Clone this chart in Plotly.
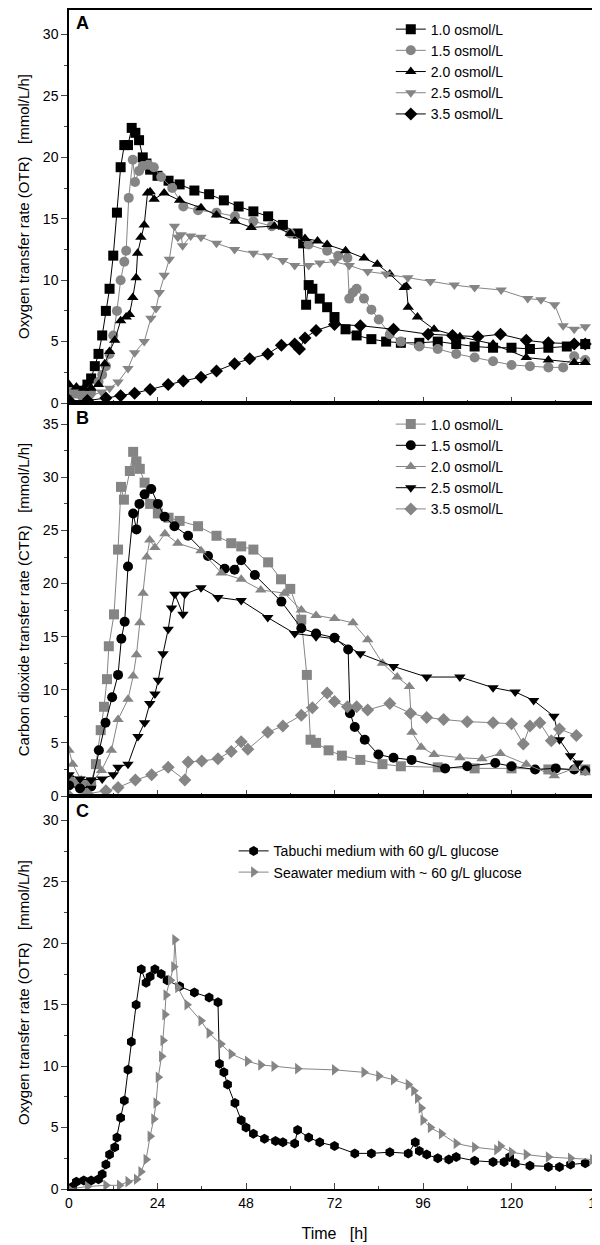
import plotly.graph_objects as go
from plotly.subplots import make_subplots

BLACK = "#000000"
GRAY = "#858585"

# ---------- Panel A: OTR ----------
A_labels = ["1.0 osmol/L", "1.5 osmol/L", "2.0 osmol/L", "2.5 osmol/L", "3.5 osmol/L"]
A_t10 = [0,2,4,5,6,7,8,9,10,11,12,13,14,15,16,17,18,19,20,21,22,24,27,30,34,38,42,46,50,54,58,62,63.5,64.3,65,66,68,70,72,75,78,82,86,90,95,100,105,110,115,120,125,130,135,140]
A_v10 = [1.0,0.8,1.0,1.5,2.0,3.0,4.0,5.5,7.5,9.3,12.0,15.5,19.2,21.0,21.0,22.4,22.0,21.4,20.0,19.5,19.0,18.5,18.1,17.8,17.3,17.0,16.5,16.0,15.6,15.2,14.5,13.8,13.0,8.0,9.6,9.3,8.5,7.8,7.0,6.0,5.5,5.2,5.0,4.9,4.9,5.0,4.8,4.6,4.5,4.5,4.4,4.5,4.6,4.8]
A_t15 = [0,2,4,6,8,9,10,11,12,13,14,15,15.5,16.2,17.3,17.9,19,20,21.5,23,25,28,31,35,40,45,50,55,60,65,70,73,75.5,76,77,78,80,82,84,87,90,95,100,105,110,115,120,125,130,134,137,140]
A_v15 = [1.0,0.8,0.7,1.0,1.7,2.3,3.0,4.0,5.5,7.5,10.0,11.5,12.4,16.7,19.8,18.0,18.9,19.3,19.4,19.2,18.4,17.5,16.0,15.7,15.5,15.2,14.8,14.4,13.8,12.9,12.4,12.0,11.8,8.5,9.0,9.3,8.5,7.6,6.8,5.6,5.0,4.6,4.4,4.0,3.7,3.4,3.1,3.0,2.9,2.9,3.8,3.5]
A_t20 = [0,2,4,6,8,9.7,11,12.4,14,15.5,16.4,17.3,18.2,18.6,19.5,20.4,21.3,22,23.1,25.8,30,35.8,40,45,49.4,55.7,60,64,67.4,70,75,80,83.6,87,90.9,91.5,92,94.5,99,106,115,124,130,137,140]
A_v20 = [1.5,1.3,1.2,1.2,1.5,3.2,4.2,5.1,6.7,7.0,7.2,8.6,10.2,12.2,13.5,14.5,17.1,17.2,16.6,17.1,16.5,15.9,15.3,14.8,14.3,14.4,13.8,13.4,13.2,12.9,12.4,11.8,11.3,10.5,9.4,9.5,7.8,7.0,6.0,5.4,4.8,3.7,3.5,3.3,3.3]
A_t25 = [0,3,6,8.8,11,13.3,16,17.8,20.4,22.2,23.6,24.5,25.8,27.2,28.6,29.5,30.4,30.8,33,35.8,40,44.9,50,53.9,58,61.2,65,68,72,76,81,86,91.9,98,104.5,110,117.2,124.4,128,131.7,134,137,140]
A_v25 = [0.4,0.5,0.6,0.9,1.2,1.7,2.8,4.1,5.0,6.9,7.7,9.0,10.4,11.7,14.4,13.5,13.7,12.8,13.6,13.5,13.0,12.5,12.2,12.0,11.6,11.2,11.2,11.4,11.5,11.2,10.7,10.5,10.2,9.9,9.6,9.4,9.2,8.5,8.4,8.0,6.3,6.0,6.2]
A_t35 = [0,5,10,14,17.8,22,26.9,31,35.8,40,44.9,49,53.9,57.6,61.2,62.5,64,67,72,79,88,97.4,104,110.9,117,124,130,137,140]
A_v35 = [0.2,0.2,0.4,0.6,0.8,1.1,1.5,1.8,2.1,2.6,3.2,3.6,4.0,4.7,4.8,4.4,5.3,5.9,6.4,6.3,6.0,5.6,5.5,5.4,5.6,5.1,4.9,4.8,4.8]

# ---------- Panel B: CTR ----------
B_t10 = [0,2,4,6,7.3,8.6,9.5,10.3,10.8,12.2,13.3,14.1,14.9,16.5,17.4,18.3,19.2,20.5,22,24.1,27,30,35,40,44,46.7,50,54,57.5,60,63,64.5,65.5,67,70.4,74,79,85,90,100,110,120,130,140]
B_v10 = [1.5,1.2,1.0,1.3,3.0,6.2,8.4,11.0,14.1,17.1,23.2,29.1,27.9,30.6,32.4,31.5,30.8,29.5,27.5,26.6,26.2,25.9,25.4,24.5,23.8,23.5,23.2,22.0,20.4,19.5,16.6,11.4,5.3,5.0,4.3,3.8,3.4,3.0,2.8,2.7,2.6,2.6,2.5,2.5]
B_t15 = [0,3,6,8.1,9.9,11.7,13.3,14.2,15.1,16,17.4,18.3,19.1,20.5,22.3,24.1,25.9,28.6,32.3,37.7,42.2,44.9,46.7,50.4,57.6,63,67,72,75.7,76.2,77.5,80.2,83.9,88,92.9,102,108,115.6,120,126.4,132,137,140]
B_v15 = [1.0,0.7,0.9,4.3,6.9,9.3,11.4,14.8,16.4,21.6,26.6,25.1,27.5,28.4,28.9,27.5,26.3,25.4,24.5,22.6,21.4,21.3,22.2,20.8,18.3,15.8,15.3,14.9,13.8,7.8,6.5,5.3,3.9,3.6,3.4,2.6,2.8,3.1,2.8,2.5,2.6,2.5,2.4]
B_t20 = [0,1,3.3,6,8.8,11.5,13.3,16,17.4,18.3,19.2,20.1,21.1,21.9,23.3,26,29.5,35.8,41.3,46.7,52,58.4,63,67,72,77,81,85,89,92.3,93,95.5,99,106,112,117,124,131.6,137,140]
B_v20 = [4.3,3.0,1.5,1.2,2.4,4.3,7.2,9.1,11.3,13.3,16.3,19.1,22.5,24.1,23.4,24.7,23.8,23.1,21.0,20.4,19.4,19.1,17.5,17.0,16.7,16.3,14.7,12.5,11.2,10.3,6.0,4.6,3.9,3.6,3.5,4.0,3.0,1.9,2.6,2.2]
B_t25 = [0,3,6,9,12,13.3,16,18.7,20.5,21.9,23.3,24.2,25.5,26.9,27.8,28.7,30.9,31.4,35.8,40.4,46.7,53.9,61.2,67,72,79,88,97,106,115,121,126,131.5,133,136,138]
B_v25 = [2.0,1.6,1.5,1.6,2.0,2.7,3.0,5.6,6.9,8.7,9.6,10.9,13.4,15.7,17.7,19.0,17.1,19.0,19.6,18.7,18.4,16.8,15.3,15.0,14.8,13.4,12.2,11.2,11.2,10.2,9.8,9.0,7.5,5.3,3.8,3.1]
B_t35 = [0,5,10,13.3,18,22.4,26.9,31.4,32.3,36,40.4,44,46.7,48.5,53.9,58,63,66,70,72,75.5,78,81,87,92.6,97,101.6,108,115,120,123.2,125,127.7,130.8,133,137.6]
B_v35 = [0.0,0.2,0.5,0.8,1.5,2.0,2.7,1.5,3.2,3.3,3.5,4.2,5.1,4.4,6.0,6.6,7.6,8.3,9.7,8.9,8.4,8.4,8.1,8.7,7.8,7.4,7.2,7.0,6.9,6.8,4.9,6.6,6.9,5.2,6.3,5.7]

# ---------- Panel C: OTR media ----------
C_labels = ["Tabuchi medium with 60 g/L glucose", "Seawater medium with ~ 60 g/L glucose"]
C_tTab = [1,2,4,6,8,9,10,11,12.4,13,14,15,16,16.9,18.2,19.6,20.9,22,23.3,25,26.6,30,34,38,40.4,40.8,42,43,45,46.7,48,50,53,56,58,61.2,62,65,68,72,77.5,82,87,92,93.9,95,97,100,103,105,110,115,118,119.5,121,125,130,133,136,140]
C_vTab = [0.2,0.6,0.7,0.7,0.8,1.2,2.0,2.8,3.4,4.2,5.8,7.2,9.7,12.0,15.0,17.9,16.8,17.3,17.9,17.5,17.0,16.5,16.0,15.6,15.2,10.2,9.5,8.5,7.0,5.6,5.0,4.5,4.1,3.9,3.8,3.7,4.8,4.2,3.8,3.5,2.9,2.9,3.0,2.9,3.8,3.1,2.8,2.5,2.4,2.6,2.3,2.2,2.2,2.6,2.1,1.9,1.8,1.8,2.0,2.1]
C_tSea = [0,5,10,13.7,16,18.3,19.5,20.9,22,23,23.6,24.2,25.1,25.5,26,26.3,27.5,28.4,28.7,29.5,32,35.8,38,41.2,44,48.4,52,55.6,62,72,80,84,88,92,93.5,94.5,95.5,96,98,101,105,110,116,117,120,124,130,136,142]
C_vSea = [0.0,0.2,0.3,0.3,0.6,0.8,1.4,2.4,4.3,5.7,7.0,9.1,10.8,12.1,14.2,15.8,17.0,18.1,20.3,16.4,15.0,13.7,12.7,11.8,11.0,10.4,10.1,10.0,9.8,9.7,9.5,9.2,8.9,8.5,8.0,7.4,6.6,5.6,5.0,4.5,3.7,3.4,3.2,3.5,3.0,2.8,2.6,2.5,2.4]

x_ticks = [0, 24, 48, 72, 96, 120, 144]

fig = make_subplots(rows=3, cols=1, shared_xaxes=True, vertical_spacing=0)

def add(row, t, v, name, color, symbol, legend, size=10):
    fig.add_trace(go.Scatter(
        x=t, y=v, name=name, mode="lines+markers",
        line=dict(color=color, width=1),
        marker=dict(color=color, symbol=symbol, size=size, line=dict(width=0)),
        legend=legend), row=row, col=1)

A_series = [(A_t10, A_v10, BLACK, "square"), (A_t15, A_v15, GRAY, "circle"),
            (A_t20, A_v20, BLACK, "triangle-up"), (A_t25, A_v25, GRAY, "triangle-down"),
            (A_t35, A_v35, BLACK, "diamond")]
for (t, v, c, s), n in zip(A_series, A_labels):
    add(1, t, v, n, c, s, "legend")
B_series = [(B_t10, B_v10, GRAY, "square"), (B_t15, B_v15, BLACK, "circle"),
            (B_t20, B_v20, GRAY, "triangle-up"), (B_t25, B_v25, BLACK, "triangle-down"),
            (B_t35, B_v35, GRAY, "diamond")]
for (t, v, c, s), n in zip(B_series, A_labels):
    add(2, t, v, n, c, s, "legend2")
add(3, C_tTab, C_vTab, C_labels[0], BLACK, "hexagon", "legend3", 10)
add(3, C_tSea, C_vSea, C_labels[1], GRAY, "triangle-right", "legend3", 10)

font = dict(family="Liberation Sans, Arial, sans-serif", size=14, color="black")
legstyle = dict(font=dict(family="Liberation Sans, Arial", size=14, color="black"),
                bgcolor="rgba(0,0,0,0)", xanchor="left", yanchor="top",
                itemwidth=30, tracegroupgap=0)
fig.update_layout(
    width=600, height=1245, template="none", font=font,
    plot_bgcolor="white", paper_bgcolor="white",
    margin=dict(l=61, r=8, t=2, b=64, autoexpand=False),
    showlegend=True,
    legend=dict(x=0.606, y=0.997, **legstyle),
    legend2=dict(x=0.606, y=0.662, **legstyle),
    legend3=dict(x=0.31, y=0.3, **legstyle),
)

for r in (1, 2, 3):
    fig.update_xaxes(row=r, col=1, range=[0, 144], tickvals=x_ticks,
                     showticklabels=(r == 3), ticks="inside", ticklen=6,
                     ticklabeloverflow="allow", automargin=False,
                     minor=dict(ticks="inside", ticklen=3, dtick=12, tick0=0),
                     showline=True, linecolor="black", linewidth=1.5, mirror=True,
                     showgrid=False, zeroline=False, tickfont=dict(size=14))
yr = {1: 32, 2: 37, 3: 32}
for r in (1, 2, 3):
    fig.update_yaxes(row=r, col=1, range=[0, yr[r]], dtick=5, tick0=0,
                     ticks="outside", ticklen=6, automargin=False,
                     minor=dict(ticks="outside", ticklen=3, dtick=2.5),
                     showline=True, linecolor="black", linewidth=1.5, mirror=True,
                     showgrid=False, zeroline=False, tickfont=dict(size=14))

sp = "\u00a0\u00a0\u00a0"
fig.update_yaxes(row=1, col=1, title=dict(text="Oxygen transfer rate (OTR)" + sp + "[mmol/L/h]", font=dict(size=15), standoff=10))
fig.update_yaxes(row=2, col=1, title=dict(text="Carbon dioxide transfer rate (CTR)" + sp + "[mmol/L/h]", font=dict(size=15), standoff=10))
fig.update_yaxes(row=3, col=1, title=dict(text="Oxygen transfer rate (OTR)" + sp + "[mmol/L/h]", font=dict(size=15), standoff=10))
fig.update_xaxes(row=3, col=1, title=dict(text="Time" + sp + "[h]", font=dict(size=16), standoff=18))

for lab, yy in (("A", 0.999), ("B", 0.664), ("C", 0.331)):
    fig.add_annotation(text="<b>" + lab + "</b>", xref="paper", yref="paper",
                       x=0.01, y=yy, xanchor="left", yanchor="top", showarrow=False,
                       font=dict(size=18, color="black"))

fig.write_html("out.html")
